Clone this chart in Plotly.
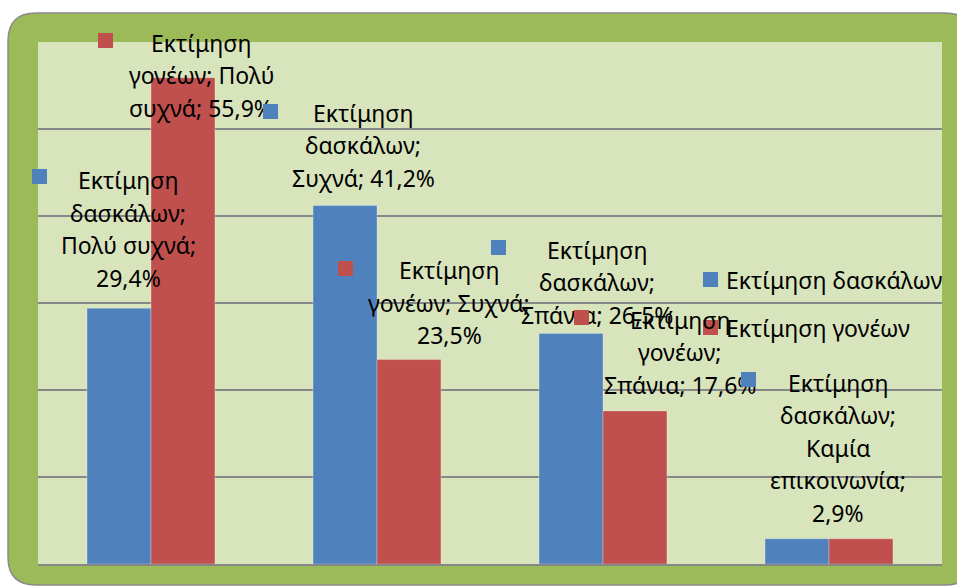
import plotly.graph_objects as go

# data
categories = ["Πολύ συχνά", "Συχνά", "Σπάνια", "Καμία επικοινωνία"]
teachers = [29.4, 41.2, 26.5, 2.9]
parents = [55.9, 23.5, 17.6, 2.9]
series_names = ["Εκτίμηση δασκάλων", "Εκτίμηση γονέων"]
series_values = [teachers, parents]
y_max = 60
y_step = 10

# page geometry (px)
W, H = 957, 587
L, R, T, B = 38, 15, 42, 23
PW, PH = W - L - R, H - T - B

BLUE = "#4F81BD"
RED = "#C0504D"
colors = [BLUE, RED]
FONT = "Noto Sans"
FS = 23
LINE_H = 32.5


def xp(px):
    return (px - L) / PW


def yp(py):
    return (H - B - py) / PH


# data labels as Excel placed them: series, category, words per line,
# shift of label centre from category centre, height of first line above bar top,
# key square offset from label centre / first line
labels = [
    dict(s=0, c=0, split=[1, 1, 2, 1], dx=-23, up=128, kx=-88.5, ky=3.5),
    dict(s=1, c=0, split=[1, 2, 2], dx=50, up=35, kx=-95.5, ky=2),
    dict(s=0, c=1, split=[1, 1, 2], dx=-14, up=93, kx=-92.5, ky=1),
    dict(s=1, c=1, split=[1, 2, 1], dx=72, up=89.5, kx=-103.5, ky=1.5),
    dict(s=0, c=2, split=[1, 1, 2], dx=-6, up=83.5, kx=-98.5, ky=2.5),
    dict(s=1, c=2, split=[1, 1, 2], dx=77, up=91, kx=-98.5, ky=2.5),
    dict(s=0, c=3, split=[1, 1, 1, 1, 1], dx=9, up=156, kx=-89.5, ky=3.5),
]

fig = go.Figure()
for name, vals, col in zip(series_names, series_values, colors):
    fig.add_trace(go.Bar(
        x=categories, y=vals, name=name,
        marker=dict(color=col, line=dict(color="rgba(255,255,255,0.35)", width=0.8)),
        showlegend=False, hoverinfo="skip",
    ))

annotations = []
shapes = []

# outer rounded frame
x0, y0, x1, y1, r = 8, 13, 973, 585, 28


def rr_path(x0, y0, x1, y1, r):
    pts = [
        f"M {xp(x0 + r)},{yp(y0)}",
        f"L {xp(x1 - r)},{yp(y0)}",
        f"Q {xp(x1)},{yp(y0)} {xp(x1)},{yp(y0 + r)}",
        f"L {xp(x1)},{yp(y1 - r)}",
        f"Q {xp(x1)},{yp(y1)} {xp(x1 - r)},{yp(y1)}",
        f"L {xp(x0 + r)},{yp(y1)}",
        f"Q {xp(x0)},{yp(y1)} {xp(x0)},{yp(y1 - r)}",
        f"L {xp(x0)},{yp(y0 + r)}",
        f"Q {xp(x0)},{yp(y0)} {xp(x0 + r)},{yp(y0)} Z",
    ]
    return " ".join(pts)


shapes.append(dict(type="path", xref="paper", yref="paper", path=rr_path(x0, y0, x1, y1, r),
                   fillcolor="#9BBB59", line=dict(color="#8A8A8A", width=1.5), layer="below"))
# plot area fill (on top of the frame)
shapes.append(dict(type="rect", xref="paper", yref="paper", x0=0, x1=1, y0=0, y1=1,
                   fillcolor="#D8E4BC", line=dict(width=0), layer="below"))

for lb in labels:
    s, c = lb["s"], lb["c"]
    v = series_values[s][c]
    text = f"{series_names[s]}; {categories[c]}; {v:.1f}%".replace(".", ",")
    words = text.split(" ")
    lines, i = [], 0
    for n in lb["split"]:
        lines.append(" ".join(words[i:i + n]))
        i += n
    for k, ln in enumerate(lines):
        annotations.append(dict(
            x=categories[c], y=v, xref="x", yref="y", text=ln, showarrow=False,
            xanchor="center", yanchor="middle", xshift=lb["dx"], yshift=lb["up"] - k * LINE_H,
            font=dict(family=FONT, size=FS, color="#000000"),
        ))
    # legend key next to the label
    annotations.append(dict(
        x=categories[c], y=v, xref="x", yref="y", text=" ", showarrow=False,
        xanchor="center", yanchor="middle",
        xshift=lb["dx"] + lb["kx"], yshift=lb["up"] + lb["ky"],
        width=15, height=15, bgcolor=colors[s], borderpad=0, borderwidth=0,
        font=dict(size=2),
    ))

# legend drawn by hand (Excel layout)
for k, (name, col) in enumerate(zip(series_names, colors)):
    cy = 279.5 + k * 48
    shapes.append(dict(type="rect", xref="paper", yref="paper",
                       x0=xp(703), x1=xp(718), y0=yp(cy + 7.5), y1=yp(cy - 7.5),
                       fillcolor=col, line=dict(width=0)))
    annotations.append(dict(x=xp(724), y=yp(cy), xref="paper", yref="paper", text=name,
                            showarrow=False, xanchor="left", yanchor="middle",
                            font=dict(family=FONT, size=FS, color="#000000")))

fig.update_layout(
    width=W, height=H,
    margin=dict(l=L, r=R, t=T, b=B, pad=0),
    paper_bgcolor="white",
    plot_bgcolor="rgba(0,0,0,0)",
    barmode="group", bargap=0.434, bargroupgap=0,
    shapes=shapes, annotations=annotations,
    font=dict(family=FONT),
)
fig.update_xaxes(range=[-0.5, len(categories) - 0.5], showticklabels=False, ticks="",
                 showgrid=False, showline=True, linecolor="#878787", linewidth=1.5, zeroline=False)
fig.update_yaxes(range=[0, y_max], dtick=y_step, showticklabels=False, ticks="",
                 showgrid=True, gridcolor="#878787", gridwidth=1.5, zeroline=False)

fig.write_html("out.html", config={"displayModeBar": False},
               post_script="document.body.style.margin='0';")
